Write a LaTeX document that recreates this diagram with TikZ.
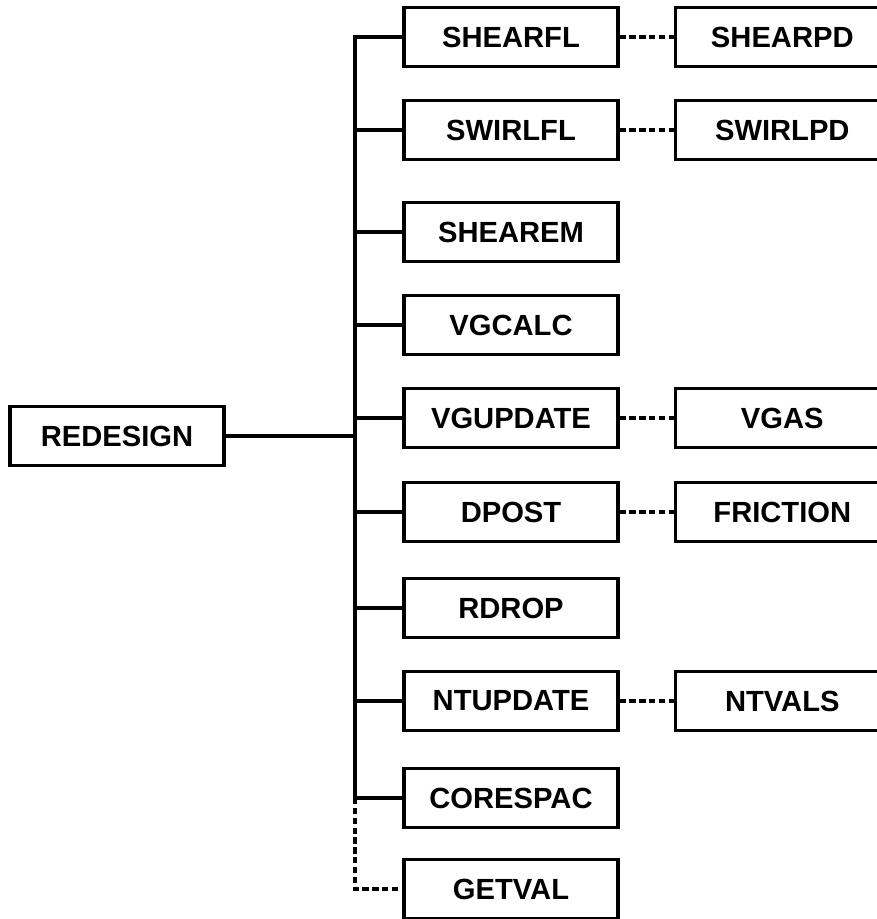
\documentclass[tikz,border=0pt]{standalone}
\usepackage{fontspec}
\setmainfont{Liberation Sans}
\usepackage{tikz}
\usetikzlibrary{positioning}
\tikzset{
  modbox/.style={draw, line width=1.9pt, minimum width=4.28cm, minimum height=1.17cm,
    inner sep=0pt, font=\fontsize{16.6}{20}\selectfont\bfseries},
  calls/.style={line width=1.9pt},
  maycall/.style={line width=1.9pt, dash pattern=on 3.6pt off 2pt},
}

\begin{document}
\begin{tikzpicture}[x=0.02cm, y=-0.02cm]
    \useasboundingbox (0,0) rectangle (876,919);
    % caller
    \node[modbox] (redesign) at (117,436) {REDESIGN};
    % modules called by REDESIGN
    \foreach \nm/\lbl/\yy [count=\i] in {shearfl/SHEARFL/37, swirlfl/SWIRLFL/130,
        shearem/SHEAREM/232, vgcalc/VGCALC/325, vgupdate/VGUPDATE/418,
        dpost/DPOST/512, rdrop/RDROP/608, ntupdate/NTUPDATE/701,
        corespac/CORESPAC/798, getval/GETVAL/889} {
      \node[modbox] (\nm) at (511,\yy) {\lbl};
      \coordinate (t\i) at (355,\yy);
    }
    \foreach \i/\nm in {1/shearfl, 2/swirlfl, 3/shearem, 4/vgcalc, 5/vgupdate,
        6/dpost, 7/rdrop, 8/ntupdate, 9/corespac}
      \draw[calls] (t\i) -- (\nm.west);
    \draw[calls, line cap=rect] (t1) -- (t9);
    \draw[maycall] (t9) -- (t10) -- (getval.west);
    \draw[calls] (redesign.east) -- (redesign.east -| t1);
    % second level
    \node[modbox, right=1.08cm of shearfl] (shearpd) {SHEARPD};
    \node[modbox, right=1.08cm of swirlfl] (swirlpd) {SWIRLPD};
    \node[modbox, right=1.08cm of vgupdate] (vgas) {VGAS};
    \node[modbox, right=1.08cm of dpost] (friction) {FRICTION};
    \node[modbox, right=1.08cm of ntupdate] (ntvals) {NTVALS};
    \draw[maycall] (shearfl) -- (shearpd);
    \draw[maycall] (swirlfl) -- (swirlpd);
    \draw[maycall] (vgupdate) -- (vgas);
    \draw[maycall] (dpost) -- (friction);
    \draw[maycall] (ntupdate) -- (ntvals);
\end{tikzpicture}
\end{document}
